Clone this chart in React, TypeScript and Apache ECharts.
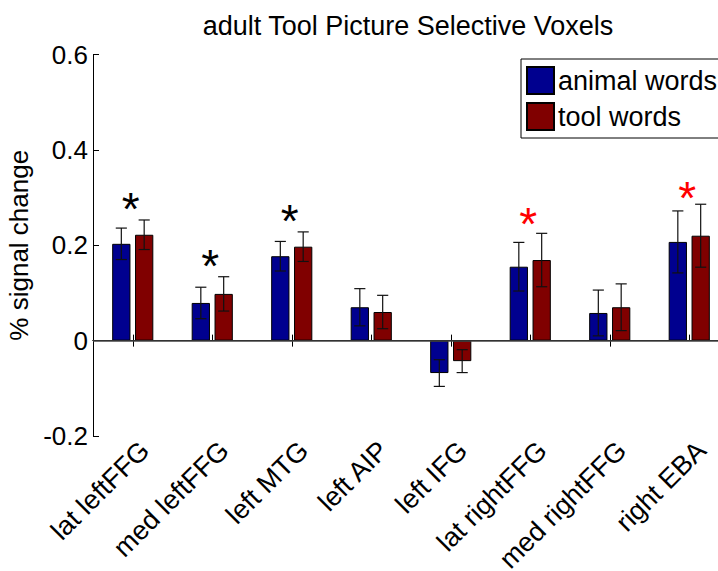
import React, { useEffect, useRef } from "react";
import * as echarts from "echarts";

const categories = [
  "lat leftFFG",
  "med leftFFG",
  "left MTG",
  "left AIP",
  "left IFG",
  "lat rightFFG",
  "med rightFFG",
  "right EBA",
];
const animalWords = [0.203, 0.079, 0.177, 0.07, -0.068, 0.155, 0.058, 0.207];
const animalErr = [0.033, 0.033, 0.031, 0.039, 0.028, 0.051, 0.048, 0.065];
const toolWords = [0.222, 0.098, 0.197, 0.06, -0.043, 0.169, 0.07, 0.22];
const toolErr = [0.031, 0.036, 0.031, 0.035, 0.024, 0.056, 0.049, 0.066];
const blackStars: [number, number][] = [
  [0, 0.297],
  [1, 0.177],
  [2, 0.272],
];
const redStars: [number, number][] = [
  [5, 0.265],
  [7, 0.32],
];
const yTicks = { min: -0.2, max: 0.6, interval: 0.2 };

const FONT = "Liberation Sans, Arial, Helvetica, sans-serif";
const BAR_W = 0.23;
const BAR_GAP = 0.25;

function errData(vals: number[], errs: number[]) {
  return vals.map((v, i) => [i, v - errs[i], v + errs[i]]);
}

function makeErrSeries(vals: number[], errs: number[], sign: number) {
  return {
    type: "custom",
    z: 4,
    silent: true,
    data: errData(vals, errs),
    encode: { x: 0, y: [1, 2] },
    renderItem: (params: any, api: any) => {
      const idx = api.value(0);
      const lo = api.coord([idx, api.value(1)]);
      const hi = api.coord([idx, api.value(2)]);
      const band = api.size([1, 0])[0];
      const off = sign * band * BAR_W * (1 + BAR_GAP) / 2;
      const x = lo[0] + off;
      const cap = band * 0.07;
      const style = { stroke: "#111", lineWidth: 1.2 };
      return {
        type: "group",
        children: [
          { type: "line", shape: { x1: x, y1: lo[1], x2: x, y2: hi[1] }, style },
          { type: "line", shape: { x1: x - cap, y1: lo[1], x2: x + cap, y2: lo[1] }, style },
          { type: "line", shape: { x1: x - cap, y1: hi[1], x2: x + cap, y2: hi[1] }, style },
        ],
      };
    },
  };
}

function starSeries(data: [number, number][], color: string) {
  return {
    type: "scatter",
    z: 5,
    silent: true,
    data,
    symbolSize: 1,
    itemStyle: { color, opacity: 0 },
    label: {
      show: true,
      position: "inside",
      formatter: "*",
      color,
      opacity: 1,
      textBorderWidth: 0,
      fontFamily: FONT,
      fontSize: 46,
      offset: [-2, 10],
    },
  };
}

export default function App() {
  const ref = useRef<HTMLDivElement>(null);
  useEffect(() => {
    if (!ref.current) return;
    const chart = echarts.init(ref.current, undefined, { renderer: "svg" });
    const axisLine = { show: true, lineStyle: { color: "#000", width: 1 } };
    chart.setOption({
      animation: false,
      backgroundColor: "#fff",
      title: {
        text: "adult Tool Picture Selective Voxels",
        left: 408,
        textAlign: "center",
        top: 12,
        padding: 0,
        textStyle: {
          fontFamily: FONT,
          fontSize: 27,
          fontWeight: "normal",
          color: "#000",
          lineHeight: 27,
        },
      },
      legend: {
        data: ["animal words", "tool words"],
        orient: "vertical",
        left: 521,
        top: 59,
        padding: [7, 5, 7, 5],
        itemGap: 7,
        itemWidth: 27,
        itemHeight: 27,
        icon: "rect",
        backgroundColor: "#fff",
        borderColor: "#000",
        borderWidth: 1,
        borderRadius: 0,
        textStyle: {
          fontFamily: FONT,
          fontSize: 27,
          color: "#000",
          lineHeight: 27,
          padding: [0, 0, 0, -1],
        },
      },
      grid: {
        left: 93,
        top: 54.5,
        width: 636,
        height: 381.5,
        containLabel: false,
        outerBoundsMode: "none",
      },
      xAxis: [
        {
          type: "category",
          data: categories,
          position: "bottom",
          axisLine,
          axisTick: { show: true, inside: true, length: 6, alignWithLabel: true, lineStyle: { color: "#000" } },
          axisLabel: {
            rotate: 45,
            interval: 0,
            margin: 22,
            padding: [0, -17, 0, 0],
            fontFamily: FONT,
            fontSize: 27,
            color: "#000",
          },
          splitLine: { show: false },
        },
        {
          type: "category",
          data: categories,
          position: "top",
          axisLine,
          axisTick: { show: true, inside: true, length: 6, alignWithLabel: true, lineStyle: { color: "#000" } },
          axisLabel: { show: false },
          splitLine: { show: false },
        },
      ],
      yAxis: [
        {
          type: "value",
          min: yTicks.min,
          max: yTicks.max,
          interval: yTicks.interval,
          name: "% signal change",
          nameLocation: "middle",
          nameGap: 56,
          nameTextStyle: { fontFamily: FONT, fontSize: 26, color: "#000" },
          axisLine,
          axisTick: { show: true, inside: true, length: 6, lineStyle: { color: "#000" } },
          axisLabel: {
            margin: 5,
            fontFamily: FONT,
            fontSize: 26,
            color: "#000",
            formatter: (v: number) => (Math.abs(v) < 1e-9 ? "0" : String(Math.round(v * 10) / 10)),
          },
          splitLine: { show: false },
        },
        {
          type: "value",
          min: yTicks.min,
          max: yTicks.max,
          interval: yTicks.interval,
          position: "right",
          axisLine,
          axisTick: { show: true, inside: true, length: 6, lineStyle: { color: "#000" } },
          axisLabel: { show: false },
          splitLine: { show: false },
        },
      ],
      series: [
        {
          name: "animal words",
          type: "bar",
          data: animalWords,
          barWidth: `${BAR_W * 100}%`,
          barGap: `${BAR_GAP * 100}%`,
          itemStyle: { color: "#00008F", borderColor: "#000", borderWidth: 1 },
          markLine: {
            silent: true,
            symbol: "none",
            label: { show: false },
            lineStyle: { color: "#444", width: 1.5, type: "solid" },
            data: [{ yAxis: 0 }],
          },
        },
        {
          name: "tool words",
          type: "bar",
          data: toolWords,
          barWidth: `${BAR_W * 100}%`,
          barGap: `${BAR_GAP * 100}%`,
          itemStyle: { color: "#800000", borderColor: "#000", borderWidth: 1 },
        },
        makeErrSeries(animalWords, animalErr, -1),
        makeErrSeries(toolWords, toolErr, 1),
        starSeries(blackStars, "#000"),
        starSeries(redStars, "#FF0000"),
      ],
    });
    return () => chart.dispose();
  }, []);
  return (
    <div
      ref={ref}
      style={{ position: "fixed", left: 0, top: 0, width: 718, height: 571, background: "#fff" }}
    />
  );
}
